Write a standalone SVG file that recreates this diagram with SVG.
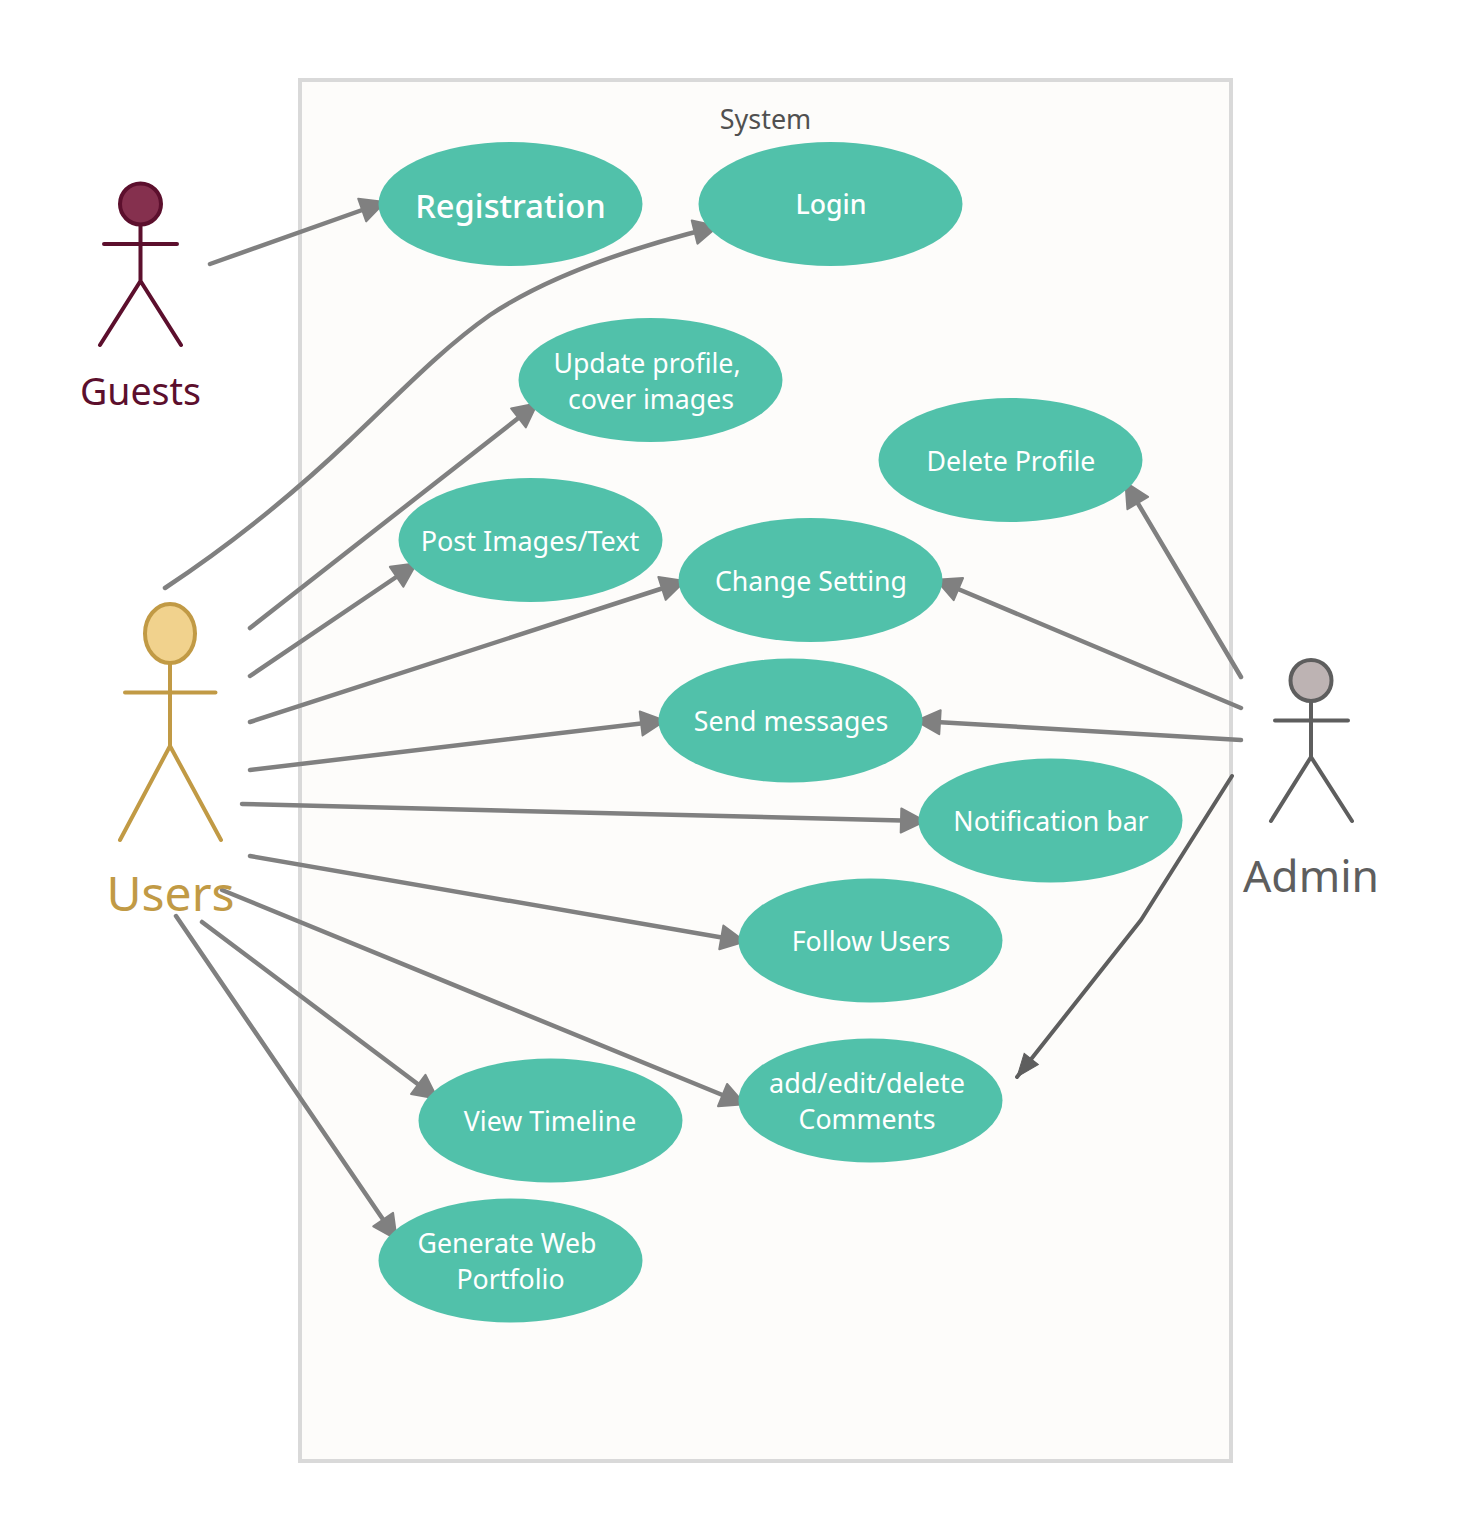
<svg xmlns="http://www.w3.org/2000/svg" width="1459" height="1540" viewBox="0 0 1459 1540">
<style>
text{font-family:"Noto Sans","Open Sans",sans-serif;text-anchor:middle}
.uc{fill:#51c1aa}
.ut{fill:#fff;font-size:26.700px}
.c{fill:none;stroke:#808080;stroke-width:4.500;stroke-linecap:round;stroke-linejoin:round}
.a{fill:none;stroke-width:4;stroke-linecap:round;stroke-linejoin:round}
</style>
<defs>
<marker id="arr" markerUnits="userSpaceOnUse" markerWidth="32" markerHeight="32" refX="23" refY="16" orient="auto"><path d="M2 4L26 16L2 28Z" fill="#808080" stroke="#808080" stroke-width="2" stroke-linejoin="round"/></marker>
<marker id="arrd" markerUnits="userSpaceOnUse" markerWidth="30" markerHeight="28" refX="25" refY="14" orient="auto"><path d="M2 5L25 14L2 23Z" fill="#5e5e5e" stroke="#5e5e5e" stroke-width="1"/></marker>
</defs>
<rect id="system" x="300" y="80" width="931" height="1381" fill="#fdfcfa" stroke="#d9d9d9" stroke-width="4"/>
<text x="765.500" y="128.500" fill="#505050" style="font-size:26.900px">System</text>

<g id="connectors">
<path class="c" marker-end="url(#arr)" d="M210 264L382 203"/>
<path class="c" marker-end="url(#arr)" d="M165 588C230 545 290 497 350 440C395 398 440 350 490 315C550 275 630 248 715 227"/>
<path class="c" marker-end="url(#arr)" d="M250 628L535 405"/>
<path class="c" marker-end="url(#arr)" d="M250 676L414 565"/>
<path class="c" marker-end="url(#arr)" d="M250 722L682 582"/>
<path class="c" marker-end="url(#arr)" d="M250 770L662 721"/>
<path class="c" marker-end="url(#arr)" d="M242 804L922 821"/>
<path class="c" marker-end="url(#arr)" d="M250 856L742 941"/>
<path class="c" marker-end="url(#arr)" d="M222 890L742 1103"/>
<path class="c" marker-end="url(#arr)" d="M202 922L435 1097"/>
<path class="c" marker-end="url(#arr)" d="M176 916L395 1237"/>
<path class="c" marker-end="url(#arr)" d="M1241 677L1127 485"/>
<path class="c" marker-end="url(#arr)" d="M1241 708L939 581"/>
<path class="c" marker-end="url(#arr)" d="M1241 740L919 721"/>
<path class="a" stroke="#5e5e5e" marker-end="url(#arrd)" d="M1232 776L1141 920L1017 1077"/>
</g>

<g id="guests">
<circle cx="140.500" cy="204" r="20.500" fill="#85304e" stroke="#5c0f2d" stroke-width="4"/>
<path class="a" stroke="#5c0f2d" d="M140.500 225V281M104 244H177M100 345L140.500 281L181 345"/>
<text x="140.500" y="405" style="font-size:37.500px" fill="#5c0f2d">Guests</text>
</g>
<g id="users">
<ellipse cx="170" cy="633.500" rx="25" ry="29.500" fill="#f1d28d" stroke="#c19a45" stroke-width="4"/>
<path class="a" stroke="#c19a45" d="M170 664V746M125 692.500H215.500M120 840L170 746L221 840"/>
<text x="170.500" y="911" style="font-size:48px" fill="#c19a45">Users</text>
</g>
<g id="admin">
<circle cx="1311" cy="680.500" r="20.500" fill="#bdb3b3" stroke="#5e5e5e" stroke-width="4"/>
<path class="a" stroke="#5e5e5e" d="M1311 702V757M1275 720.500H1348M1271 821L1311 757L1352 821"/>
<text x="1311" y="892" style="font-size:44.400px" fill="#5e5e5e">Admin</text>
</g>

<g id="registration"><ellipse class="uc" cx="510.500" cy="204" rx="132" ry="62"/><text class="ut" x="510.500" y="218" style="font-size:32.700px;font-weight:500">Registration</text></g>
<g id="login"><ellipse class="uc" cx="830.500" cy="204" rx="132" ry="62"/><text class="ut" x="831" y="214" style="font-weight:500">Login</text></g>
<g id="update-profile"><ellipse class="uc" cx="650.500" cy="380" rx="132" ry="62"/><text class="ut" x="647" y="372.500">Update profile,</text><text class="ut" x="651" y="408.500">cover images</text></g>
<g id="delete-profile"><ellipse class="uc" cx="1010.500" cy="460" rx="132" ry="62"/><text class="ut" x="1011" y="470.500">Delete Profile</text></g>
<g id="post-images"><ellipse class="uc" cx="530.500" cy="540" rx="132" ry="62"/><text class="ut" x="530" y="550.500" style="font-size:27px">Post Images/Text</text></g>
<g id="change-setting"><ellipse class="uc" cx="810.500" cy="580" rx="132" ry="62"/><text class="ut" x="811" y="590.500">Change Setting</text></g>
<g id="send-messages"><ellipse class="uc" cx="790.500" cy="720.500" rx="132" ry="62"/><text class="ut" x="791" y="730.500">Send messages</text></g>
<g id="notification-bar"><ellipse class="uc" cx="1050.500" cy="820.500" rx="132" ry="62"/><text class="ut" x="1051" y="830.500">Notification bar</text></g>
<g id="follow-users"><ellipse class="uc" cx="870.500" cy="940.500" rx="132" ry="62"/><text class="ut" x="871" y="950.500">Follow Users</text></g>
<g id="comments"><ellipse class="uc" cx="870.500" cy="1100.500" rx="132" ry="62"/><text class="ut" x="867" y="1092.500" style="font-size:27px">add/edit/delete</text><text class="ut" x="867" y="1128.500">Comments</text></g>
<g id="view-timeline"><ellipse class="uc" cx="550.500" cy="1120.500" rx="132" ry="62"/><text class="ut" x="550" y="1130.500">View Timeline</text></g>
<g id="portfolio"><ellipse class="uc" cx="510.500" cy="1260.500" rx="132" ry="62"/><text class="ut" x="507" y="1252.500">Generate Web</text><text class="ut" x="510.500" y="1288.500">Portfolio</text></g>
</svg>
